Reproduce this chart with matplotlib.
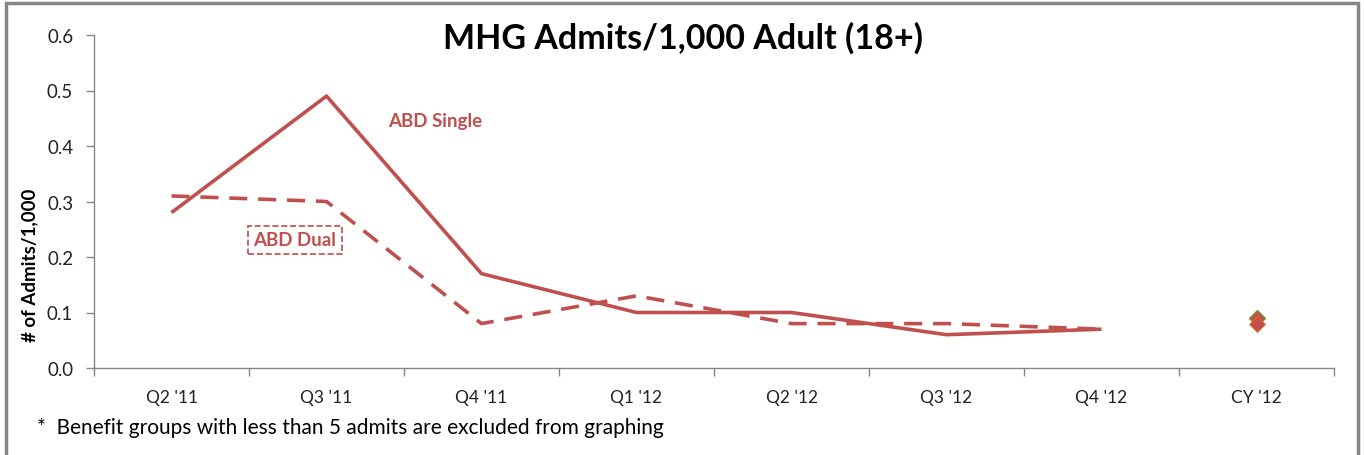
import matplotlib
matplotlib.use("Agg")
import matplotlib.pyplot as plt
from matplotlib.patches import Rectangle
import numpy as np

plt.rcParams['font.family'] = ['Lato', 'DejaVu Sans']

categories = ["Q2 '11", "Q3 '11", "Q4 '11", "Q1 '12", "Q2 '12", "Q3 '12", "Q4 '12", "CY '12"]
abd_single = [0.28, 0.49, 0.17, 0.10, 0.10, 0.06, 0.07]
abd_dual = [0.31, 0.30, 0.08, 0.13, 0.08, 0.08, 0.07]
cy_single = 0.08
cy_dual = 0.09
yticks = [0.0, 0.1, 0.2, 0.3, 0.4, 0.5, 0.6]

RED = "#C0504D"
GRAY = "#868686"

fig = plt.figure(figsize=(13.64, 4.56), dpi=100)
ax = fig.add_axes([94/1364, 1-369/456, (1334-94)/1364, (369-36)/456])

x = np.arange(len(abd_single))
ax.plot(x, abd_single, color=RED, lw=2.6, solid_capstyle='butt')
ax.plot(x, abd_dual, color=RED, lw=2.6, ls=(0, (5, 3)))
ax.plot([7], [cy_dual], marker='D', ms=8, color=RED, mec="#77933C", mew=1)
ax.plot([7], [cy_single], marker='D', ms=8, color=RED, mec="#E46C0A", mew=0.6)

ax.set_xlim(-0.5, 7.5)
ax.set_ylim(0, 0.6)
ax.set_yticks(yticks)
ax.set_yticklabels([f"{v:.1f}" for v in yticks])
ax.set_xticks(np.arange(len(categories)))
ax.set_xticklabels(categories)
ax.set_xticks(np.arange(-0.5, 8, 1), minor=True)
ax.tick_params(axis='x', which='major', length=0, pad=15, labelsize=12.5, labelcolor='#222222')
ax.tick_params(axis='x', which='minor', length=6, color=GRAY, width=1)
ax.tick_params(axis='y', length=6, color=GRAY, width=1, pad=9, labelsize=13.5, labelcolor='#222222')

for s in ['top', 'right']:
    ax.spines[s].set_visible(False)
for s in ['left', 'bottom']:
    ax.spines[s].set_color(GRAY)
    ax.spines[s].set_linewidth(1)

fig.text(683/1364, 1-38/456, "MHG Admits/1,000 Adult (18+)", ha='center', va='center',
         fontsize=24.5, fontweight='bold', color='black')
fig.text(30/1364, 1-265/456, "# of Admits/1,000", rotation=90, ha='center', va='center',
         fontsize=13.5, fontweight='bold', color='black')
fig.text(388/1364, 1-122/456, "ABD Single", ha='left', va='center',
         fontsize=13.5, fontweight='bold', color=RED)
fig.text(295/1364, 1-241/456, "ABD Dual", ha='center', va='center',
         fontsize=13.5, fontweight='bold', color=RED,
         bbox=dict(boxstyle='square,pad=0.3', fc='white', ec=RED, ls='--', lw=1.2))
fig.text(37/1364, 1-428/456, "*  Benefit groups with less than 5 admits are excluded from graphing",
         ha='left', va='center', fontsize=15, color='black')

fig.patches.append(Rectangle((6/1364, -0.05), (1358-6)/1364, 1-4/456+0.05,
                             transform=fig.transFigure, fill=False, ec=GRAY, lw=2.5))

fig.savefig("out.png", dpi=100)
